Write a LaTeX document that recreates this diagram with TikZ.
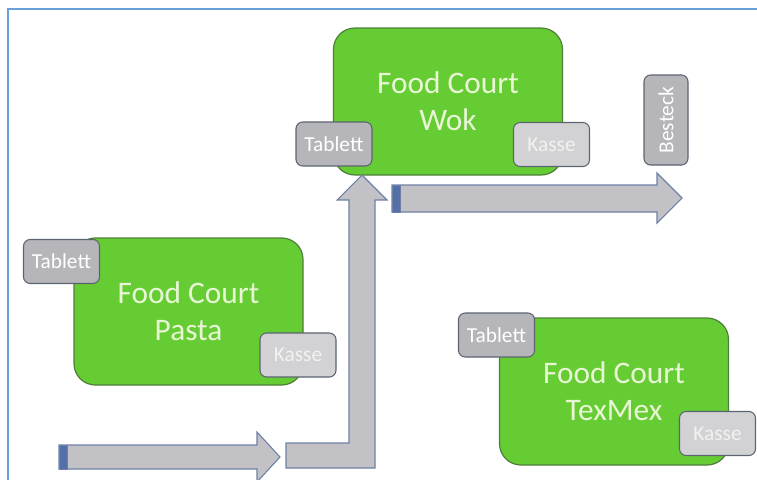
\documentclass[tikz,border=0pt]{standalone}
\usepackage{fontspec}
\setmainfont{Carlito}
\definecolor{courtgreen}{HTML}{66CC33}
\definecolor{courtline}{HTML}{4E7F3A}
\definecolor{courttext}{HTML}{E8F6D6}
\definecolor{traygrey}{HTML}{B6B6BA}
\definecolor{tillgrey}{HTML}{D2D2D4}
\definecolor{boxline}{HTML}{5C6470}
\definecolor{arrowgrey}{HTML}{C2C2C6}
\definecolor{arrowline}{HTML}{6E80A6}
\definecolor{capblue}{HTML}{5470A8}
\definecolor{frameblue}{HTML}{6A9FDC}
\begin{document}
\begin{tikzpicture}[x=.75pt, y=-.75pt,
    court/.style={draw=courtline, line width=.9pt, fill=courtgreen, rounded corners=16pt,
        minimum width=171.75pt, minimum height=110.25pt, inner sep=0pt, align=center,
        text=courttext, font=\fontsize{23.5}{28}\selectfont},
    tray/.style={draw=boxline, line width=.8pt, fill=traygrey, rounded corners=5pt,
        minimum width=57pt, minimum height=33pt, inner sep=0pt, text=white,
        font=\fontsize{16}{18}\selectfont},
    till/.style={tray, fill=tillgrey, text=white!95!black},
    flow/.style={draw=arrowline, line width=.8pt, fill=arrowgrey},
    flowcap/.style={draw=arrowline, line width=.6pt, fill=capblue}]
\useasboundingbox (0,0) rectangle (757,479);
\draw[frameblue, line width=1.5pt] (8,485)--(8,9)--(765,9);

\node[court] (wok) at (448,101.5) {Food Court\\Wok};
\node[court] (pasta) at (188.5,311.5) {Food Court\\Pasta};
\node[court] (texmex) at (614,391.5) {Food Court\\TexMex};

\node[tray] (wokTablett) at (334,144) {Tablett};
\node[tray] (pastaTablett) at (61.5,261.5) {Tablett};
\node[tray] (texmexTablett) at (496.5,335) {Tablett};
\node[till] (wokKasse) at (551.5,144.5) {Kasse};
\node[till] (pastaKasse) at (298,355) {Kasse};
\node[till] (texmexKasse) at (717.5,433.5) {Kasse};
\node[tray, minimum width=67.5pt, rotate=90] (besteck) at (666,120) {Besteck};

% walking path
\draw[flow] (59,445)--(257,445)--(257,432)--(280,457)--(257,482)--(257,469)--(59,469)--cycle;
\draw[flowcap] (59,445) rectangle (67,469);
\draw[flow] (286,443)--(349,443)--(349,200)--(337,200)--(362,175)--(387,200)--(375,200)
    --(375,468)--(286,468)--cycle;
\draw[flow] (392,185)--(657,185)--(657,173)--(682,198)--(657,223)--(657,212)--(392,212)--cycle;
\draw[flowcap] (392,185) rectangle (400,212);

\end{tikzpicture}
\end{document}
